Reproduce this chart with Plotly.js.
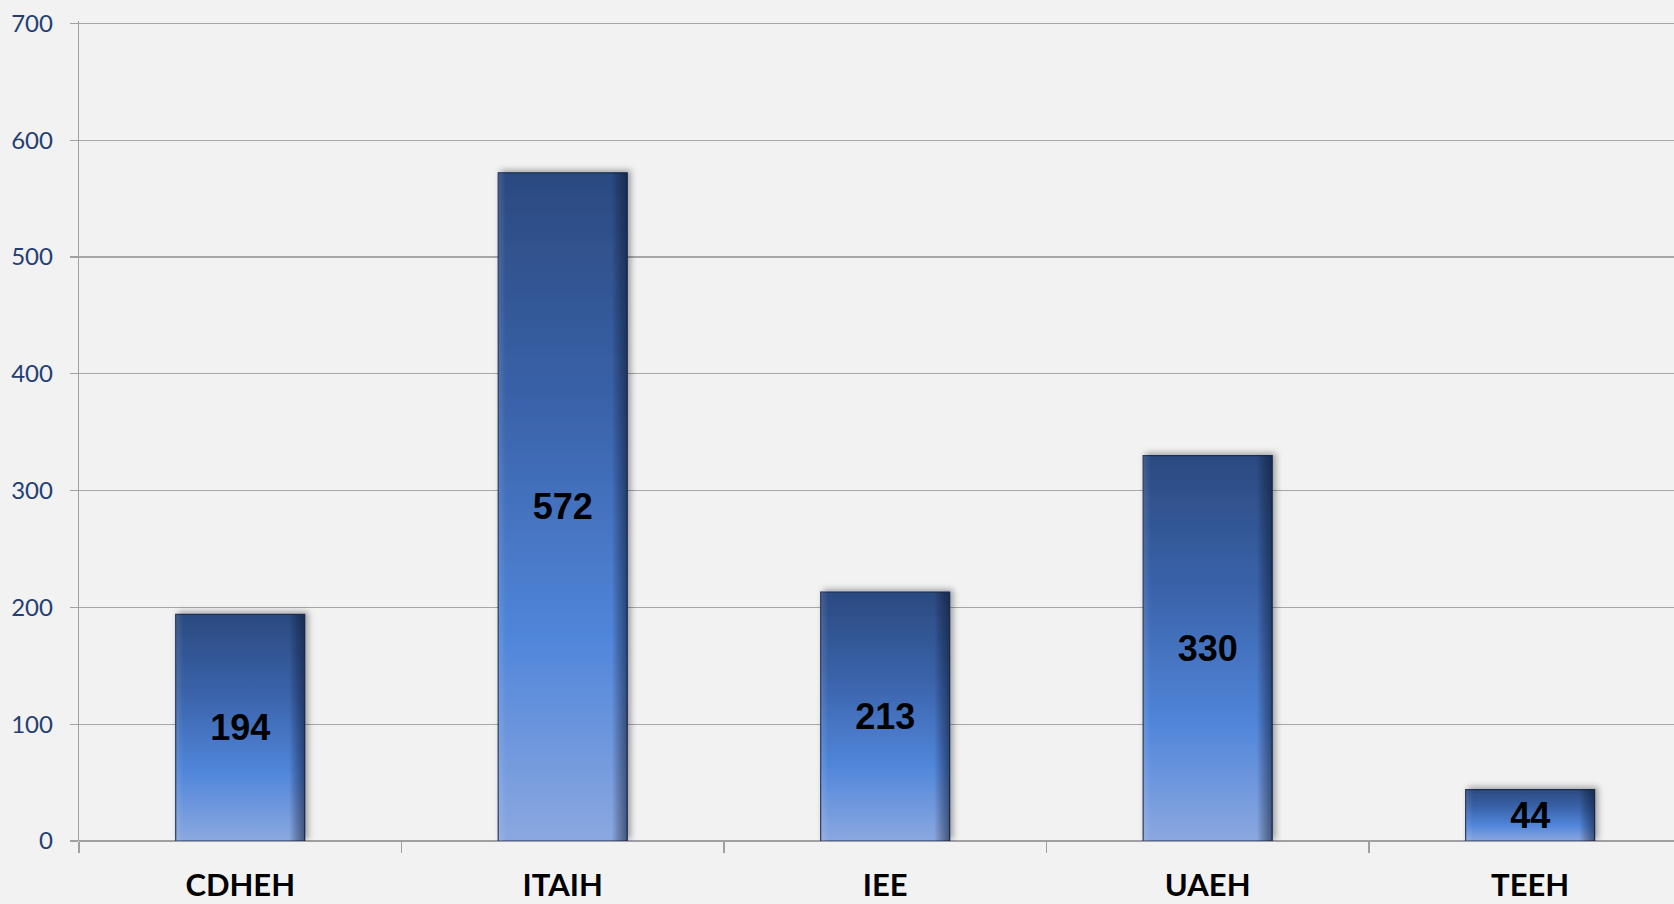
<!DOCTYPE html>
<html>
<head>
<meta charset="utf-8">
<script src="https://cdn.plot.ly/plotly-3.0.1.min.js"></script>
<style>
html,body{margin:0;padding:0;background:#F2F2F2;}
#chart{width:1674px;height:904px;}
</style>
</head>
<body>
<div id="chart"></div>
<script>
const categories = ["CDHEH", "ITAIH", "IEE", "UAEH", "TEEH"];
const values = [194, 572, 213, 330, 44];
const yTicks = [0, 100, 200, 300, 400, 500, 600, 700];

const trace = {
  type: "bar",
  x: categories,
  y: values,
  width: 0.4,
  text: values.map(String),
  textposition: "inside",
  insidetextanchor: "middle",
  constraintext: "none",
  textangle: 0,
  textfont: {family: "Liberation Sans, Arial, sans-serif", size: 36, color: "#000000", weight: "bold"},
  marker: {color: "#4472C4", line: {color: "#1b2d52", width: 1.2}},
  hoverinfo: "x+y"
};

const layout = {
  width: 1674,
  height: 904,
  paper_bgcolor: "#F2F2F2",
  plot_bgcolor: "#F2F2F2",
  margin: {l: 79, r: 0, t: 21, b: 63},
  showlegend: false,
  xaxis: {
    type: "category",
    range: [-0.5, 4.446],
    tickson: "boundaries",
    ticks: "outside",
    ticklen: 11,
    tickcolor: "#A0A0A0",
    tickwidth: 1.3,
    showgrid: false,
    showline: false,
    zeroline: false,
    ticklabelstandoff: 23,
    tickfont: {family: "Lato, Calibri, sans-serif", size: 31, color: "#000000", weight: "bold"}
  },
  yaxis: {
    range: [0, 702],
    tickvals: yTicks,
    ticktext: yTicks.map(String),
    ticks: "outside",
    ticklen: 8,
    tickcolor: "#A0A0A0",
    tickwidth: 1.3,
    showgrid: true,
    gridcolor: "#A6A6A6",
    gridwidth: 1.3,
    zeroline: true,
    zerolinecolor: "#A0A0A0",
    zerolinewidth: 1.3,
    showline: true,
    linecolor: "#A0A0A0",
    linewidth: 1.3,
    ticklabelstandoff: 12,
    tickfont: {family: "Lato, Calibri, sans-serif", size: 24, color: "#243F73"}
  }
};

Plotly.newPlot("chart", [trace], layout, {displayModeBar: false, staticPlot: true}).then(function(gd){
  const svg = gd.querySelector("svg.main-svg");
  const ns = "http://www.w3.org/2000/svg";
  let defs = svg.querySelector("defs");
  if (!defs) { defs = document.createElementNS(ns, "defs"); svg.insertBefore(defs, svg.firstChild); }
  function mkGrad(id, horiz, stops) {
    const g = document.createElementNS(ns, "linearGradient");
    g.setAttribute("id", id);
    g.setAttribute("x1", "0"); g.setAttribute("y1", "0");
    g.setAttribute("x2", horiz ? "1" : "0"); g.setAttribute("y2", horiz ? "0" : "1");
    stops.forEach(function(s){
      const st = document.createElementNS(ns, "stop");
      st.setAttribute("offset", s[0]); st.setAttribute("stop-color", s[1]);
      st.setAttribute("stop-opacity", s[2] === undefined ? 1 : s[2]);
      g.appendChild(st);
    });
    defs.appendChild(g);
  }
  mkGrad("barGrad", false, [["0%", "#2B4A80"], ["35%", "#3A63AA"], ["70%", "#5186DA"], ["100%", "#8BA8E0"]]);
  mkGrad("edgeGrad", true, [["0%", "#ffffff", 0.12], ["6%", "#ffffff", 0], ["88%", "#000000", 0], ["100%", "#0a1630", 0.55]]);
  const f = document.createElementNS(ns, "filter");
  f.setAttribute("id", "barShadow");
  f.setAttribute("x", "-20%"); f.setAttribute("y", "-20%");
  f.setAttribute("width", "140%"); f.setAttribute("height", "140%");
  const ds = document.createElementNS(ns, "feDropShadow");
  ds.setAttribute("dx", "3"); ds.setAttribute("dy", "-2");
  ds.setAttribute("stdDeviation", "3");
  ds.setAttribute("flood-color", "#000"); ds.setAttribute("flood-opacity", "0.35");
  f.appendChild(ds);
  defs.appendChild(f);
  gd.querySelectorAll(".bars .point path").forEach(function(p){
    p.style.fill = "url(#barGrad)";
    p.style.fillOpacity = "1";
    p.setAttribute("filter", "url(#barShadow)");
    const c = p.cloneNode(true);
    c.removeAttribute("filter");
    c.style.fill = "url(#edgeGrad)";
    c.style.stroke = "none";
    p.parentNode.insertBefore(c, p.nextSibling);
  });
});
</script>
</body>
</html>
